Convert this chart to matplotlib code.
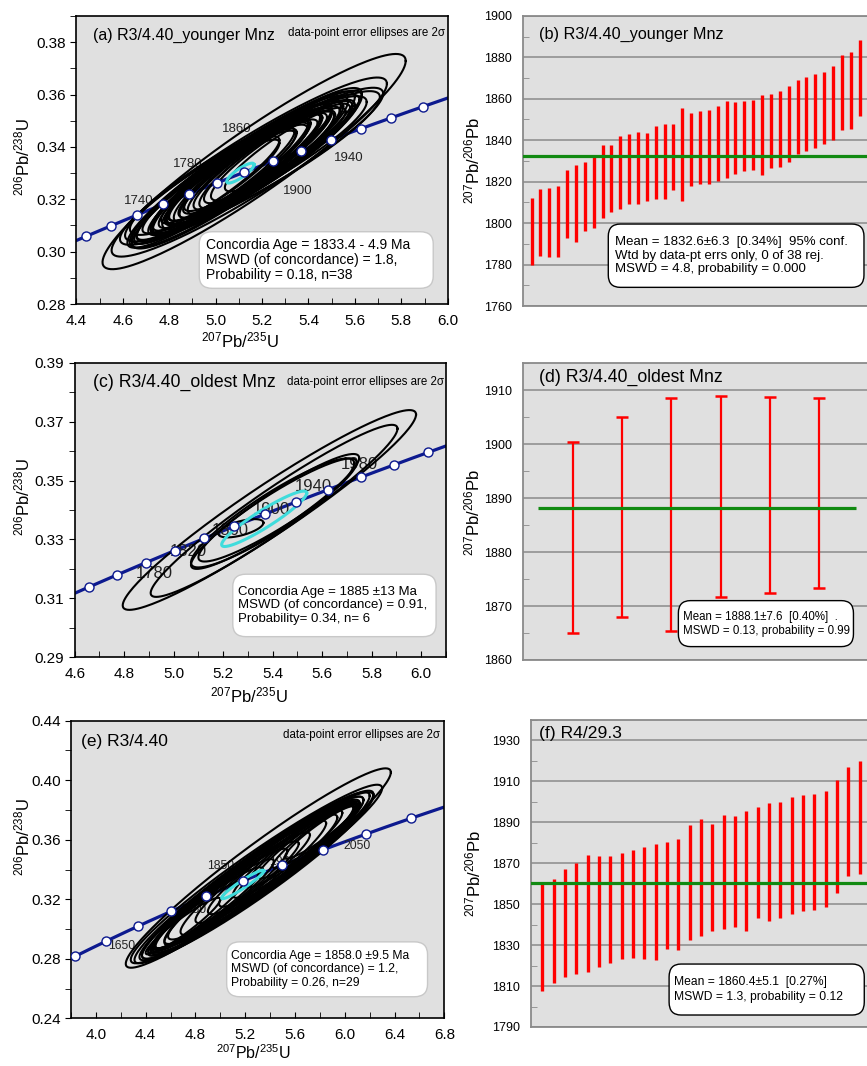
import numpy as np
import matplotlib
matplotlib.use('Agg')
import matplotlib.pyplot as plt
from matplotlib import font_manager
from matplotlib.patches import FancyBboxPatch
from matplotlib.ticker import MultipleLocator, FormatStrFormatter

plt.rcParams['font.family'] = ['Liberation Sans', 'DejaVu Sans']
plt.rcParams['mathtext.fontset'] = 'custom'
plt.rcParams['mathtext.rm'] = 'Liberation Sans'
plt.rcParams['mathtext.default'] = 'regular'

try:
    font_manager.findfont('Liberation Sans Narrow', fallback_to_default=False)
    NARROW = (['Liberation Sans Narrow', 'DejaVu Sans'], 9.5)
except ValueError:
    NARROW = (['Liberation Sans', 'DejaVu Sans'], 8.3)

# decay constants (1/Ma)
L238 = 1.55125e-4
L235 = 9.8485e-4

# ---------------- (a) R3/4.40 younger Mnz : ellipses (centre, 2s half-widths, rho)
a_x = [5.166, 5.145, 5.155, 5.159, 5.141, 5.120, 5.100, 5.180, 5.060, 5.200,
       5.080, 5.130, 5.050, 5.220, 5.110, 5.170, 5.020, 5.090, 5.140, 5.240,
       5.060, 5.190, 5.000, 5.120, 5.260, 5.080, 5.160, 5.040, 5.210, 5.100,
       5.280, 4.980, 5.150, 5.230, 5.070, 5.130, 5.300, 5.020]
a_y = [0.3344, 0.3323, 0.3326, 0.3326, 0.3329, 0.3312, 0.3305, 0.3345, 0.3290, 0.3350,
       0.3300, 0.3320, 0.3280, 0.3355, 0.3310, 0.3340, 0.3270, 0.3300, 0.3325, 0.3360,
       0.3285, 0.3340, 0.3260, 0.3315, 0.3370, 0.3295, 0.3330, 0.3275, 0.3350, 0.3305,
       0.3380, 0.3255, 0.3325, 0.3360, 0.3290, 0.3320, 0.3390, 0.3268]
a_sx = [0.653, 0.593, 0.567, 0.549, 0.510, 0.480, 0.470, 0.450, 0.440, 0.430,
        0.420, 0.410, 0.400, 0.400, 0.390, 0.380, 0.380, 0.370, 0.360, 0.360,
        0.350, 0.345, 0.340, 0.335, 0.330, 0.325, 0.320, 0.310, 0.305, 0.300,
        0.300, 0.295, 0.290, 0.280, 0.275, 0.265, 0.260, 0.255]
a_sy = [0.0411, 0.0342, 0.0300, 0.0287, 0.0265, 0.0300, 0.0290, 0.0280, 0.0275, 0.0265,
        0.0262, 0.0255, 0.0250, 0.0245, 0.0240, 0.0235, 0.0240, 0.0230, 0.0225, 0.0220,
        0.0222, 0.0215, 0.0215, 0.0210, 0.0205, 0.0205, 0.0200, 0.0195, 0.0190, 0.0188,
        0.0185, 0.0185, 0.0180, 0.0175, 0.0172, 0.0165, 0.0160, 0.0160]
a_rho = [0.935, 0.93, 0.925, 0.92, 0.915, 0.93, 0.925, 0.925, 0.93, 0.92,
         0.925, 0.915, 0.93, 0.915, 0.92, 0.915, 0.925, 0.92, 0.915, 0.91,
         0.925, 0.915, 0.925, 0.915, 0.91, 0.92, 0.915, 0.92, 0.91, 0.915,
         0.905, 0.92, 0.915, 0.905, 0.915, 0.91, 0.905, 0.915]
a_conc = [5.107, 0.3300, 0.059, 0.0038, 0.85]
a_ages = list(range(1720, 1961, 20))
a_labels = ['1740', '1780', '1860', '1900', '1940']
a_label_pos = [(4.67, 0.3195), (4.88, 0.3335), (5.09, 0.3468), (5.355, 0.3230), (5.575, 0.3357)]

# ---------------- (c) R3/4.40 oldest Mnz
c_x = [5.387, 5.406, 5.410, 5.400, 5.420, 5.272]
c_y = [0.3400, 0.3397, 0.3395, 0.3390, 0.3400, 0.3338]
c_sx = [0.593, 0.499, 0.340, 0.330, 0.320, 0.091]
c_sy = [0.0339, 0.0292, 0.0195, 0.0185, 0.0175, 0.0031]
c_rho = [0.955, 0.955, 0.93, 0.91, 0.92, 0.60]
c_conc = [5.366, 0.3370, 0.172, 0.0094, 0.93]
c_ages = list(range(1760, 1981, 20))
c_labels = ['1780', '1820', '1860', '1900', '1940', '1980']
c_label_pos = [(4.92, 0.3185), (5.06, 0.3259), (5.23, 0.3332), (5.396, 0.3403), (5.565, 0.3481), (5.75, 0.3553)]

# ---------------- (e) R3/4.40
e_x = [5.305, 5.290, 5.270, 5.300, 5.250, 5.320, 5.230, 5.280, 5.350, 5.200,
       5.310, 5.400, 5.150, 5.260, 5.450, 5.100, 5.500, 5.050, 5.550, 5.000,
       5.600, 4.950, 5.650, 4.900, 5.700, 4.800, 5.750, 4.700, 5.800]
e_y = [0.3410, 0.3370, 0.3350, 0.3360, 0.3340, 0.3380, 0.3330, 0.3350, 0.3390, 0.3310,
       0.3370, 0.3410, 0.3290, 0.3350, 0.3440, 0.3260, 0.3470, 0.3230, 0.3500, 0.3200,
       0.3530, 0.3170, 0.3560, 0.3140, 0.3590, 0.3080, 0.3620, 0.3020, 0.3650]
e_sx = [1.065, 1.010, 0.960, 0.930, 0.900, 0.880, 0.860, 0.840, 0.800, 0.780,
        0.760, 0.720, 0.700, 0.680, 0.650, 0.620, 0.600, 0.580, 0.560, 0.540,
        0.500, 0.480, 0.450, 0.440, 0.400, 0.380, 0.330, 0.300, 0.280]
e_sy = [0.0670, 0.0600, 0.0580, 0.0560, 0.0550, 0.0540, 0.0530, 0.0520, 0.0500, 0.0490,
        0.0470, 0.0450, 0.0440, 0.0420, 0.0400, 0.0390, 0.0370, 0.0360, 0.0350, 0.0340,
        0.0320, 0.0300, 0.0280, 0.0275, 0.0250, 0.0240, 0.0210, 0.0190, 0.0175]
e_rho = [0.96, 0.96, 0.96, 0.955, 0.96, 0.955, 0.96, 0.955, 0.955, 0.96,
         0.955, 0.95, 0.955, 0.95, 0.95, 0.955, 0.95, 0.955, 0.945, 0.955,
         0.945, 0.95, 0.945, 0.95, 0.94, 0.95, 0.94, 0.945, 0.935]
e_conc = [5.18, 0.3300, 0.17, 0.0096, 0.95]
e_ages = list(range(1600, 2051, 50))
e_labels = ['1650', '1750', '1850', '1950', '2050']
e_label_pos = [(4.21, 0.2886), (4.78, 0.3128), (5.00, 0.3424), (5.50, 0.3450), (6.10, 0.3560)]

# ---------------- weighted means, 207Pb/206Pb ages (Ma) and 2s errors
b_age = [1796.0, 1800.2, 1800.3, 1800.6, 1809.2, 1809.5, 1812.8, 1814.8, 1820.0, 1821.4,
         1824.5, 1826.0, 1826.5, 1827.0, 1829.1, 1829.8, 1832.0, 1833.0, 1835.4, 1836.5,
         1836.8, 1838.5, 1840.2, 1840.9, 1841.9, 1842.5, 1842.3, 1844.4, 1845.6, 1847.9,
         1851.2, 1852.5, 1854.0, 1855.5, 1858.0, 1863.0, 1864.0, 1870.0]
b_err = [16.0, 16.2, 16.8, 17.1, 16.2, 18.5, 16.8, 17.2, 17.6, 16.1,
         17.5, 17.0, 17.5, 16.5, 17.5, 18.2, 16.0, 22.5, 17.7, 17.5,
         17.8, 18.1, 18.5, 17.3, 16.9, 17.1, 19.3, 17.9, 18.3, 18.2,
         17.9, 17.9, 18.0, 17.5, 18.0, 18.0, 18.5, 18.5]
b_mean = 1832.6

d_age = [1882.7, 1886.5, 1887.0, 1890.25, 1890.55, 1890.95]
d_err = [17.7, 18.6, 21.6, 18.65, 18.15, 17.55]
d_mean = 1888.1

f_age = [1834.0, 1836.9, 1840.7, 1843.0, 1845.4, 1846.4, 1847.2, 1849.1, 1850.0, 1850.4,
         1851.0, 1854.3, 1854.6, 1860.6, 1863.0, 1863.1, 1865.7, 1866.0, 1866.4, 1870.4,
         1870.6, 1871.5, 1873.6, 1875.1, 1875.6, 1876.8, 1883.1, 1890.5, 1892.5]
f_err = [26.3, 25.3, 26.5, 27.3, 28.7, 27.3, 26.1, 26.1, 26.5, 27.4,
         28.3, 26.3, 27.2, 28.1, 28.5, 26.1, 27.9, 27.3, 29.3, 27.3,
         28.7, 28.4, 28.6, 28.3, 28.4, 28.3, 27.8, 26.5, 27.7]
f_mean = 1860.4

BG = '#e0e0e0'
NAVY = '#0d1a8f'
GRID = '#8a8a8a'
GREEN = '#118a11'

XLAB = r'$^{207}$Pb/$^{235}$U'
YLAB = r'$^{206}$Pb/$^{238}$U'
RLAB = r'$^{207}$Pb/$^{206}$Pb'


def ellipse_xy(cx, cy, sx, sy, rho, n=240):
    t = np.linspace(0, 2 * np.pi, n)
    x = cx + sx * np.cos(t)
    y = cy + sy * (rho * np.cos(t) + np.sqrt(1 - rho ** 2) * np.sin(t))
    return x, y


def text_box(ax, x0, y0, w, h, lines, tx, fs, spacing, edge, family=None):
    box = FancyBboxPatch((x0, y0), w, h, boxstyle='round,pad=0,rounding_size=0.035',
                         transform=ax.transAxes, facecolor='white', edgecolor=edge,
                         linewidth=1.0, zorder=6, mutation_aspect=1.2)
    ax.add_patch(box)
    kw = {} if family is None else {'family': family}
    ax.text(tx, y0 + h / 2, '\n'.join(lines), transform=ax.transAxes, fontsize=fs,
            ha='left', va='center', linespacing=spacing, zorder=7, **kw)


def concordia_panel(ax, ex, ey, esx, esy, erho, conc, ages, labels, label_pos, label_fs,
                    xlim, ylim, xmaj, ymaj, yfmt):
    ax.set_facecolor(BG)
    t = np.linspace(1400, 2300, 500)
    ax.plot(np.exp(L235 * t) - 1, np.exp(L238 * t) - 1, color=NAVY, lw=2.3, zorder=1)
    for lab, (lx, ly) in zip(labels, label_pos):
        ax.text(lx, ly, lab, fontsize=label_fs, color='#222222', ha='center', va='center', zorder=1.5)
    for i in range(len(ex)):
        x, y = ellipse_xy(ex[i], ey[i], esx[i], esy[i], erho[i])
        ax.plot(x, y, color='black', lw=1.5, zorder=2)
    x, y = ellipse_xy(*conc)
    ax.plot(x, y, color='#3fdcdc', lw=2.2, zorder=3)
    ag = np.array(ages, dtype=float)
    ax.plot(np.exp(L235 * ag) - 1, np.exp(L238 * ag) - 1, 'o', ms=6.5, mfc='white',
            mec=NAVY, mew=1.0, zorder=4, clip_on=True)
    ax.set_xlim(*xlim)
    ax.set_ylim(*ylim)
    ax.xaxis.set_major_locator(MultipleLocator(xmaj))
    ax.xaxis.set_minor_locator(MultipleLocator(xmaj / 2))
    ax.xaxis.set_major_formatter(FormatStrFormatter('%.1f'))
    ax.yaxis.set_major_locator(MultipleLocator(ymaj))
    ax.yaxis.set_minor_locator(MultipleLocator(ymaj / 2))
    ax.yaxis.set_major_formatter(FormatStrFormatter(yfmt))
    ax.tick_params(axis='x', which='both', direction='in', length=4, labelsize=11, pad=7)
    ax.tick_params(axis='y', which='both', direction='out', length=4, labelsize=11)
    for s in ax.spines.values():
        s.set_linewidth(1.2)


def mean_panel(ax, age, err, mean, ylim, ymaj, yminor, nmax, caps=False, mean_span=None):
    ax.set_facecolor(BG)
    n = len(age)
    x = np.arange(1, n + 1)
    age = np.array(age)
    err = np.array(err)
    if caps:
        ax.errorbar(x, age, yerr=err, fmt='none', ecolor='red', elinewidth=1.6,
                    capsize=4, capthick=1.8, zorder=3)
    else:
        ax.vlines(x, age - err, age + err, color='red', lw=2.4, zorder=3)
    if mean_span is None:
        ax.axhline(mean, color=GREEN, lw=2.3, zorder=4)
    else:
        ax.hlines(mean, mean_span[0], mean_span[1], color=GREEN, lw=2.3, zorder=4)
    ax.set_xlim(0, nmax)
    ax.set_ylim(*ylim)
    ax.yaxis.set_major_locator(MultipleLocator(ymaj))
    ax.yaxis.set_minor_locator(MultipleLocator(yminor))
    ax.grid(axis='y', which='major', color=GRID, lw=1.1, zorder=1)
    ax.set_axisbelow(True)
    ax.set_xticks([])
    ax.tick_params(axis='y', which='major', length=0, labelsize=9, pad=8)
    ax.tick_params(axis='y', which='minor', direction='in', length=4, color=GRID)
    for s in ax.spines.values():
        s.set_color(GRID)
        s.set_linewidth(1.3)


fig = plt.figure(figsize=(8.67, 10.66), dpi=100)

# ---------- (a)
ax = fig.add_axes([0.0880, 0.7148, 0.4284, 0.2702])
concordia_panel(ax, a_x, a_y, a_sx, a_sy, a_rho, a_conc, a_ages, a_labels, a_label_pos, 9.5,
                (4.4, 6.0), (0.28, 0.39), 0.2, 0.02, '%.2f')
ax.text(0.044, 0.934, '(a) R3/4.40_younger Mnz', transform=ax.transAxes, fontsize=11.5, va='center')
ax.text(0.993, 0.94, 'data-point error ellipses are 2σ', transform=ax.transAxes,
        fontsize=NARROW[1], family=NARROW[0], ha='right', va='center')
text_box(ax, 0.331, 0.0545, 0.630, 0.1965,
         ['Concordia Age = 1833.4 - 4.9 Ma', 'MSWD (of concordance) = 1.8,', 'Probability = 0.18, n=38'],
         0.348, 10, 1.1, '#c8c8c8')
ax.text(-0.146, 0.51, YLAB, transform=ax.transAxes, rotation=90, fontsize=12, ha='center', va='center')
ax.text(0.44, -0.125, XLAB, transform=ax.transAxes, fontsize=12, ha='center', va='center')

# ---------- (b)
ax = fig.add_axes([0.6029, 0.7129, 0.3988, 0.2723])
mean_panel(ax, b_age, b_err, b_mean, (1760, 1900), 20, 10, 39)
ax.text(0.047, 0.936, '(b) R3/4.40_younger Mnz', transform=ax.transAxes, fontsize=11.7, va='center')
text_box(ax, 0.2475, 0.0644, 0.7395, 0.2181,
         ['Mean = 1832.6±6.3  [0.34%]  95% conf.', 'Wtd by data-pt errs only, 0 of 38 rej.',
          'MSWD = 4.8, probability = 0.000'], 0.267, 9.5, 1.15, 'black')
ax.text(-0.144, 0.50, RLAB, transform=ax.transAxes, rotation=90, fontsize=12, ha='center', va='center')

# ---------- (c)
ax = fig.add_axes([0.0862, 0.3834, 0.4279, 0.2764])
concordia_panel(ax, c_x, c_y, c_sx, c_sy, c_rho, c_conc, c_ages, c_labels, c_label_pos, 12,
                (4.6, 6.1), (0.29, 0.39), 0.2, 0.02, '%.2f')
ax.yaxis.set_major_locator(MultipleLocator(0.02, offset=0.01))
ax.yaxis.set_minor_locator(MultipleLocator(0.01))
ax.text(0.0485, 0.932, '(c) R3/4.40_oldest Mnz', transform=ax.transAxes, fontsize=12.7, va='center')
ax.text(0.996, 0.936, 'data-point error ellipses are 2σ', transform=ax.transAxes,
        fontsize=NARROW[1], family=NARROW[0], ha='right', va='center')
text_box(ax, 0.426, 0.070, 0.548, 0.212,
         ['Concordia Age = 1885 ±13 Ma', 'MSWD (of concordance) = 0.91,', 'Probability= 0.34, n= 6'],
         0.441, 9.5, 1.15, '#c8c8c8')
ax.text(-0.142, 0.544, YLAB, transform=ax.transAxes, rotation=90, fontsize=12, ha='center', va='center')
ax.text(0.47, -0.13, XLAB, transform=ax.transAxes, fontsize=12, ha='center', va='center')

# ---------- (d)
ax = fig.add_axes([0.6036, 0.3809, 0.3983, 0.2783])
mean_panel(ax, d_age, d_err, d_mean, (1860, 1915), 10, 5, 7, caps=True, mean_span=(0.29, 6.74))
ax.text(0.045, 0.951, '(d) R3/4.40_oldest Mnz', transform=ax.transAxes, fontsize=12.7, va='center')
text_box(ax, 0.449, 0.045, 0.507, 0.155,
         ['Mean = 1888.1±7.6  [0.40%]  .', 'MSWD = 0.13, probability = 0.99'], 0.463, 8.3, 1.2, 'black')
ax.text(-0.146, 0.495, RLAB, transform=ax.transAxes, rotation=90, fontsize=12, ha='center', va='center')

# ---------- (e)
ax = fig.add_axes([0.0819, 0.0447, 0.4306, 0.2792])
concordia_panel(ax, e_x, e_y, e_sx, e_sy, e_rho, e_conc, e_ages, e_labels, e_label_pos, 8.7,
                (3.8, 6.8), (0.24, 0.44), 0.4, 0.04, '%.2f')
ax.text(0.027, 0.929, '(e) R3/4.40', transform=ax.transAxes, fontsize=12.5, va='center')
ax.text(0.988, 0.952, 'data-point error ellipses are 2σ', transform=ax.transAxes,
        fontsize=NARROW[1], family=NARROW[0], ha='right', va='center')
text_box(ax, 0.417, 0.0726, 0.538, 0.1844,
         ['Concordia Age = 1858.0 ±9.5 Ma', 'MSWD (of concordance) = 1.2,', 'Probability = 0.26, n=29'],
         0.4286, 8.7, 1.15, '#c8c8c8')
ax.text(-0.131, 0.61, YLAB, transform=ax.transAxes, rotation=90, fontsize=12, ha='center', va='center')
ax.text(0.49, -0.116, XLAB, transform=ax.transAxes, fontsize=11.5, ha='center', va='center')

# ---------- (f)
ax = fig.add_axes([0.6125, 0.0366, 0.3922, 0.2880])
mean_panel(ax, f_age, f_err, f_mean, (1790, 1940), 20, 10, 30)
ax.yaxis.set_major_locator(MultipleLocator(20, offset=10))
ax.text(0.0235, 0.957, '(f) R4/29.3', transform=ax.transAxes, fontsize=12.6, va='center')
text_box(ax, 0.406, 0.039, 0.574, 0.166,
         ['Mean = 1860.4±5.1  [0.27%]', 'MSWD = 1.3, probability = 0.12'], 0.421, 8.7, 1.25, 'black')
ax.text(-0.17, 0.50, RLAB, transform=ax.transAxes, rotation=90, fontsize=12, ha='center', va='center')

fig.savefig('out.png', dpi=100)
